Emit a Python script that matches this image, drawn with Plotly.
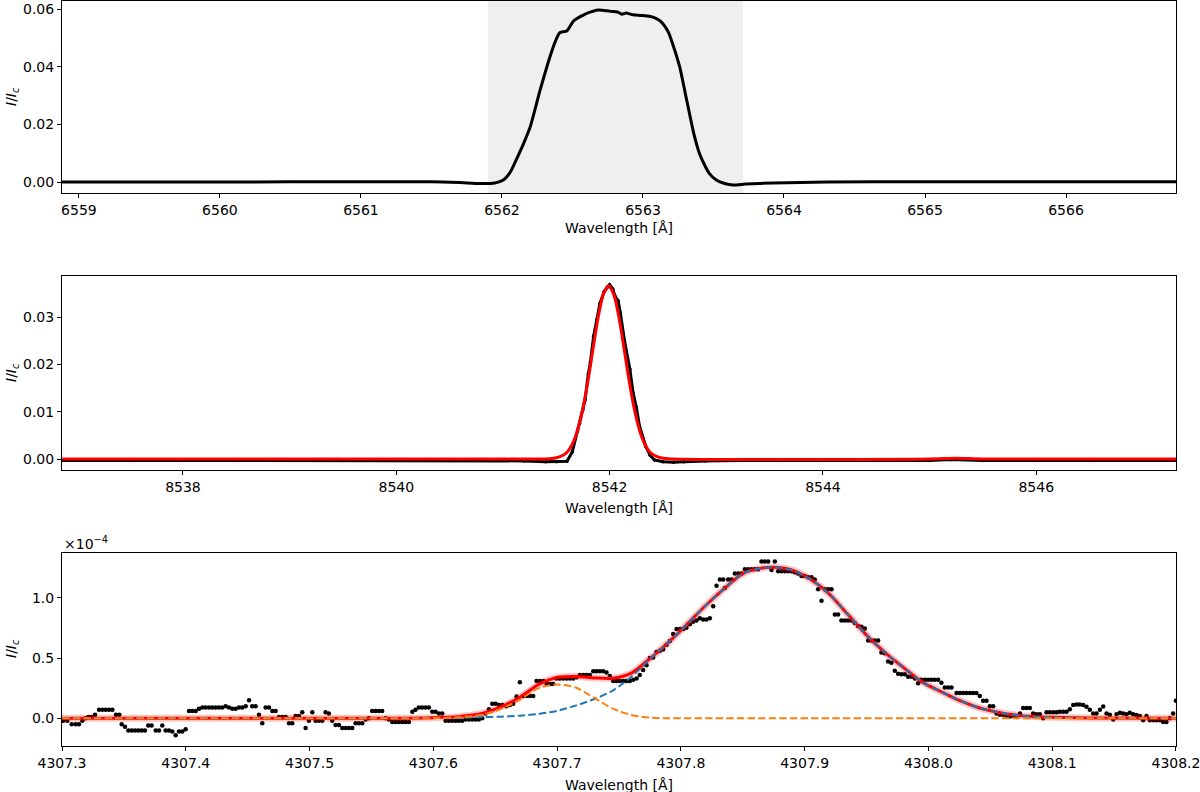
import plotly.graph_objects as go

# ---------------- Panel 1: H-alpha profile ----------------
ha_wl = [6558.88, 6559.5, 6560.0, 6560.5, 6561.0, 6561.5, 6561.7, 6561.85, 6561.95, 6562.01,
         6562.06, 6562.10, 6562.15, 6562.20, 6562.27, 6562.34, 6562.38, 6562.41, 6562.46, 6562.51,
         6562.58, 6562.63, 6562.68, 6562.72, 6562.77, 6562.82, 6562.85, 6562.88, 6562.93, 6562.98,
         6563.03, 6563.07, 6563.11, 6563.14, 6563.18, 6563.21, 6563.26, 6563.31, 6563.36, 6563.40,
         6563.43, 6563.47, 6563.52, 6563.58, 6563.64, 6563.73, 6563.92, 6564.3, 6565.0, 6566.0, 6566.78]
ha_int = [0.0, 0.0, 0.0, 0.0001, 0.0001, 0.0001, -0.0002, -0.0005, -0.0003, 0.0007,
          0.0035, 0.0076, 0.0130, 0.0191, 0.0318, 0.0434, 0.0490, 0.0518, 0.0524, 0.0560,
          0.0580, 0.0590, 0.0597, 0.0595, 0.0592, 0.0590, 0.0582, 0.0586, 0.0580, 0.0578,
          0.0576, 0.0572, 0.0563, 0.0550, 0.0520, 0.0480, 0.0400, 0.0284, 0.0169, 0.0100,
          0.0066, 0.0030, 0.0007, -0.0005, -0.0010, -0.0007, -0.0003, 0.0, 0.0001, 0.0001, 0.0001]
ha_span = [6561.90, 6563.71]

# ---------------- Panel 2: Ca II 8542 ----------------
ir_obs_wl = [8536.87, 8537.5, 8538.0, 8538.5, 8539.0, 8539.5, 8540.0, 8540.5, 8540.9, 8541.2,
             8541.4, 8541.5, 8541.6, 8541.65, 8541.7, 8541.72, 8541.75, 8541.77, 8541.8, 8541.82,
             8541.85, 8541.88, 8541.91, 8541.95, 8541.98, 8542.00, 8542.03, 8542.05, 8542.08, 8542.10,
             8542.14, 8542.19, 8542.22, 8542.25, 8542.28, 8542.31, 8542.34, 8542.38, 8542.42, 8542.5,
             8542.6, 8542.7, 8542.9, 8543.2, 8543.6, 8544.0, 8544.5, 8545.0, 8545.2, 8545.5,
             8546.0, 8546.5, 8547.31]
ir_obs = [-0.0003, -0.0003, -0.0003, -0.0003, -0.0003, -0.0003, -0.0003, -0.0003, -0.0003, -0.0004,
          -0.0006, -0.0006, -0.0005, 0.0015, 0.0060, 0.0075, 0.0105, 0.0125, 0.0180, 0.0205,
          0.0260, 0.0295, 0.0330, 0.0355, 0.0365, 0.0369, 0.0360, 0.0345, 0.0335, 0.0310,
          0.0250, 0.0190, 0.0140, 0.0110, 0.0070, 0.0045, 0.0026, 0.0008, -0.0002, -0.0006,
          -0.0007, -0.0006, -0.0004, -0.0003, -0.0003, -0.0003, -0.0003, -0.0003, -0.0001, -0.0003,
          -0.0003, -0.0003, -0.0003]
ir_fit_wl = [8536.87, 8541.0, 8541.39, 8541.49, 8541.59, 8541.64, 8541.69, 8541.74, 8541.79, 8541.84,
             8541.89, 8541.94, 8541.99, 8542.04, 8542.09, 8542.14, 8542.19, 8542.24, 8542.29, 8542.34,
             8542.39, 8542.49, 8542.59, 8545.0, 8545.25, 8545.5, 8547.31]
ir_fit = [0.0, 0.0, 0.0, 0.0002, 0.0012, 0.0027, 0.0054, 0.0097, 0.0156, 0.0227,
          0.0297, 0.0348, 0.0367, 0.0348, 0.0297, 0.0227, 0.0156, 0.0097, 0.0054, 0.0027,
          0.0012, 0.0002, 0.0, 0.0, 0.00015, 0.0, 0.0]

# ---------------- Panel 3: 4307.x line (values in units of 1e-4) ----------------
ca_wl = [
    4307.3011, 4307.3043, 4307.3078, 4307.3110, 4307.3137, 4307.3164, 4307.3191, 4307.3213, 4307.3240, 4307.3267,
    4307.3299, 4307.3326, 4307.3353, 4307.3380, 4307.3407, 4307.3436, 4307.3463, 4307.3482, 4307.3509, 4307.3536,
    4307.3563, 4307.3590, 4307.3617, 4307.3644, 4307.3670, 4307.3697, 4307.3724, 4307.3757, 4307.3784, 4307.3810,
    4307.3837, 4307.3864, 4307.3891, 4307.3918, 4307.3945, 4307.3972, 4307.3999, 4307.4026, 4307.4053, 4307.4080,
    4307.4107, 4307.4134, 4307.4160, 4307.4187, 4307.4214, 4307.4241, 4307.4268, 4307.4295, 4307.4322, 4307.4349,
    4307.4376, 4307.4403, 4307.4430, 4307.4457, 4307.4484, 4307.4511, 4307.4537, 4307.4564, 4307.4591, 4307.4618,
    4307.4645, 4307.4672, 4307.4699, 4307.4726, 4307.4753, 4307.4780, 4307.4807, 4307.4834,
    4307.4860, 4307.4887, 4307.4914, 4307.4941, 4307.4968, 4307.4995, 4307.5022, 4307.5049, 4307.5076, 4307.5103,
    4307.5129, 4307.5156, 4307.5183, 4307.5210, 4307.5237, 4307.5264, 4307.5291, 4307.5318, 4307.5345, 4307.5372,
    4307.5399, 4307.5426, 4307.5453, 4307.5480, 4307.5506, 4307.5533, 4307.5560, 4307.5587, 4307.5614, 4307.5641,
    4307.5668, 4307.5695, 4307.5722, 4307.5749, 4307.5776, 4307.5803, 4307.5830, 4307.5856, 4307.5883, 4307.5910,
    4307.5937, 4307.5964, 4307.5991, 4307.6018, 4307.6045, 4307.6072, 4307.6099, 4307.6126, 4307.6153, 4307.6180,
    4307.6206, 4307.6233, 4307.6260, 4307.6287, 4307.6314, 4307.6341, 4307.6368, 4307.6395, 4307.6422, 4307.6449,
    4307.6476, 4307.6503, 4307.6530, 4307.6557,
    4307.6591, 4307.6618, 4307.6645, 4307.6672, 4307.6699, 4307.6726, 4307.6753, 4307.6780, 4307.6807, 4307.6834,
    4307.6861, 4307.6888, 4307.6915, 4307.6942, 4307.6968, 4307.6995, 4307.7022, 4307.7049, 4307.7076, 4307.7103,
    4307.7130, 4307.7157, 4307.7184, 4307.7211, 4307.7238, 4307.7265, 4307.7292, 4307.7318, 4307.7345, 4307.7372,
    4307.7399, 4307.7426, 4307.7453, 4307.7480, 4307.7507, 4307.7534, 4307.7561, 4307.7588, 4307.7615, 4307.7642,
    4307.7668, 4307.7695, 4307.7722, 4307.7749, 4307.7776, 4307.7803, 4307.7830, 4307.7857, 4307.7884, 4307.7911,
    4307.7938, 4307.7965, 4307.7992, 4307.8019, 4307.8045, 4307.8072, 4307.8099, 4307.8126, 4307.8153, 4307.8180,
    4307.8207, 4307.8234, 4307.8261, 4307.8288, 4307.8315, 4307.8342,
    4307.8355, 4307.8382, 4307.8409, 4307.8436, 4307.8463, 4307.8490, 4307.8517, 4307.8543, 4307.8570, 4307.8597,
    4307.8624, 4307.8651, 4307.8678, 4307.8705, 4307.8732, 4307.8759, 4307.8786, 4307.8813, 4307.8840, 4307.8867,
    4307.8894, 4307.8920, 4307.8947, 4307.8974, 4307.9001, 4307.9028, 4307.9055, 4307.9082, 4307.9109, 4307.9136,
    4307.9163, 4307.9190, 4307.9217, 4307.9244, 4307.9270, 4307.9297, 4307.9324, 4307.9351, 4307.9378, 4307.9405,
    4307.9432, 4307.9459, 4307.9486, 4307.9513, 4307.9540, 4307.9567, 4307.9594, 4307.9620, 4307.9647, 4307.9674,
    4307.9701, 4307.9728, 4307.9755, 4307.9782, 4307.9809, 4307.9836, 4307.9863, 4307.9890, 4307.9917, 4307.9944,
    4307.9971, 4307.9997, 4308.0024, 4308.0051, 4308.0078, 4308.0105, 4308.0132, 4308.0159, 4308.0186,
    4308.0227, 4308.0254, 4308.0281, 4308.0308, 4308.0335, 4308.0361, 4308.0388, 4308.0415, 4308.0442, 4308.0469,
    4308.0496, 4308.0523, 4308.0550, 4308.0577, 4308.0604, 4308.0631, 4308.0658, 4308.0685, 4308.0712, 4308.0739,
    4308.0765, 4308.0792, 4308.0819, 4308.0846, 4308.0873, 4308.0900, 4308.0927, 4308.0954, 4308.0981, 4308.1008,
    4308.1035, 4308.1062, 4308.1089, 4308.1116, 4308.1143, 4308.1170, 4308.1197, 4308.1223, 4308.1250, 4308.1277,
    4308.1304, 4308.1331, 4308.1358, 4308.1385, 4308.1412, 4308.1439, 4308.1466, 4308.1493, 4308.1520, 4308.1547,
    4308.1573, 4308.1600, 4308.1627, 4308.1654, 4308.1681, 4308.1708, 4308.1735, 4308.1762, 4308.1789, 4308.1816,
    4308.1843, 4308.1870, 4308.1896, 4308.1923, 4308.1950, 4308.1977, 4308.1999,
]
ca_obs_e4 = [
    -0.02, -0.02, -0.05, -0.05, -0.05, -0.02, 0.00, 0.01, 0.01, 0.03,
    0.07, 0.07, 0.07, 0.07, 0.07, 0.03, 0.03, -0.05, -0.07, -0.10,
    -0.10, -0.10, -0.10, -0.10, -0.10, -0.06, -0.06, -0.10, -0.10, -0.06,
    -0.10, -0.10, -0.11, -0.14, -0.11, -0.11, -0.09, 0.06, 0.06, 0.06,
    0.08, 0.09, 0.09, 0.09, 0.09, 0.09, 0.09, 0.09, 0.10, 0.09,
    0.08, 0.08, 0.09, 0.09, 0.10, 0.15, 0.10, 0.10, 0.03, -0.04,
    0.09, 0.09, 0.06, 0.06, 0.01, 0.01, 0.01, -0.04,
    -0.04, 0.02, 0.02, 0.05, -0.08, -0.02, 0.05, -0.02, -0.02, -0.02,
    0.05, 0.04, -0.02, -0.055, -0.055, -0.08, -0.08, -0.08, -0.08, -0.04,
    -0.04, -0.04, -0.01, 0.00, 0.06, 0.06, 0.06, 0.06, 0.00, -0.01,
    -0.03, -0.03, -0.03, -0.03, -0.03, -0.03, 0.055, 0.07, 0.09, 0.09,
    0.09, 0.09, 0.055, 0.055, 0.04, 0.04, -0.02, -0.02, -0.02, -0.02,
    -0.02, -0.02, -0.01, -0.01, -0.01, -0.01, -0.01, 0.00, 0.04, 0.075,
    0.12, 0.12, 0.11, 0.11,
    0.10, 0.11, 0.12, 0.18, 0.30, 0.185, 0.185, 0.185, 0.185, 0.31,
    0.31, 0.31, 0.285, 0.285, 0.285, 0.33, 0.33, 0.33, 0.33, 0.33,
    0.33, 0.34, 0.36, 0.36, 0.36, 0.36, 0.39, 0.39, 0.39, 0.39,
    0.38, 0.35, 0.31, 0.31, 0.31, 0.31, 0.31, 0.31, 0.32, 0.33,
    0.36, 0.40, 0.44, 0.50, 0.505, 0.55, 0.56, 0.57, 0.61, 0.64,
    0.70, 0.74, 0.74, 0.74, 0.75, 0.78, 0.80, 0.81, 0.83, 0.82,
    0.82, 0.83, 0.93, 1.10, 1.15, 1.15,
    1.08, 1.15, 1.15, 1.20, 1.20, 1.20, 1.235, 1.235, 1.235, 1.235,
    1.235, 1.30, 1.30, 1.30, 1.23, 1.30, 1.22, 1.22, 1.22, 1.22,
    1.22, 1.21, 1.20, 1.18, 1.18, 1.17, 1.17, 1.15, 1.07, 0.975,
    1.07, 1.07, 1.07, 0.86, 0.86, 0.81, 0.81, 0.81, 0.81, 0.79,
    0.765, 0.76, 0.745, 0.645, 0.645, 0.645, 0.645, 0.545, 0.54, 0.47,
    0.46, 0.395, 0.37, 0.365, 0.365, 0.345, 0.345, 0.33, 0.29, 0.32,
    0.32, 0.32, 0.32, 0.32, 0.32, 0.295, 0.255, 0.255, 0.255,
    0.21, 0.21, 0.21, 0.21, 0.21, 0.21, 0.21, 0.185, 0.145, 0.145,
    0.10, 0.10, 0.04, 0.03, 0.03, 0.02, 0.015, 0.02, 0.01, 0.04,
    0.085, 0.085, 0.085, 0.04, 0.033, 0.033, 0.00, 0.05, 0.05, 0.05,
    0.05, 0.055, 0.055, 0.055, 0.075, 0.11, 0.115, 0.115, 0.11, 0.095,
    0.07, 0.04, 0.04, 0.07, 0.097, 0.04, 0.03, -0.01, 0.033, 0.047,
    0.04, 0.033, 0.047, 0.033, 0.028, 0.02, -0.015, 0.02, -0.015, -0.015,
    -0.015, -0.015, -0.03, -0.03, 0.00, 0.04, 0.145,
]
ca_fit_wl = [4307.30, 4307.45, 4307.55, 4307.60, 4307.62, 4307.64, 4307.655, 4307.67, 4307.685, 4307.70,
             4307.715, 4307.73, 4307.745, 4307.76, 4307.775, 4307.79, 4307.805, 4307.82, 4307.835, 4307.85,
             4307.865, 4307.875, 4307.89, 4307.905, 4307.92, 4307.935, 4307.95, 4307.965, 4307.98, 4307.995,
             4308.01, 4308.025, 4308.04, 4308.055, 4308.07, 4308.085, 4308.10, 4308.13, 4308.20]
ca_comp1_e4 = [0.0, 0.0, 0.0, 0.003, 0.005, 0.010, 0.014, 0.022, 0.036, 0.062,
               0.105, 0.16, 0.23, 0.345, 0.49, 0.63, 0.78, 0.935, 1.075, 1.20,
               1.245, 1.252, 1.228, 1.15, 1.03, 0.86, 0.69, 0.545, 0.42, 0.30,
               0.222, 0.148, 0.09, 0.052, 0.027, 0.014, 0.008, 0.003, 0.0]
ca_comp2_e4 = [0.0, 0.0, 0.0, 0.002, 0.008, 0.03, 0.08, 0.155, 0.25, 0.28,
               0.255, 0.17, 0.08, 0.028, 0.006, 0.0, 0.0, 0.0, 0.0, 0.0,
               0.0, 0.0, 0.0, 0.0, 0.0, 0.0, 0.0, 0.0, 0.0, 0.0,
               0.0, 0.0, 0.0, 0.0, 0.0, 0.0, 0.0, 0.0, 0.0]
ca_total_e4 = [0.0, 0.0, 0.0, 0.005, 0.014, 0.042, 0.097, 0.175, 0.28, 0.338,
               0.346, 0.335, 0.332, 0.375, 0.495, 0.63, 0.78, 0.935, 1.075, 1.20,
               1.245, 1.252, 1.228, 1.15, 1.03, 0.86, 0.69, 0.545, 0.42, 0.30,
               0.222, 0.148, 0.09, 0.052, 0.027, 0.014, 0.008, 0.003, 0.0]

ha_ticks = [6559, 6560, 6561, 6562, 6563, 6564, 6565, 6566]
ir_ticks = [8538, 8540, 8542, 8544, 8546]
ca_ticks = [4307.3, 4307.4, 4307.5, 4307.6, 4307.7, 4307.8, 4307.9, 4308.0, 4308.1, 4308.2]
ca_tick_text = ["4307.3", "4307.4", "4307.5", "4307.6", "4307.7", "4307.8", "4307.9", "4308.0", "4308.1", "4308.2"]

FONT = "DejaVu Sans"
DASH = "7.4px,3.2px"

fig = go.Figure()

# Panel 1
fig.add_trace(go.Scatter(x=ha_wl, y=ha_int, mode="lines", line=dict(color="black", width=3, shape="spline", smoothing=0.6),
                         xaxis="x", yaxis="y", hoverinfo="skip"))

# Panel 2
fig.add_trace(go.Scatter(x=ir_obs_wl, y=ir_obs, mode="lines+markers", line=dict(color="black", width=3),
                         marker=dict(color="black", size=3.5), xaxis="x2", yaxis="y2", hoverinfo="skip"))
fig.add_trace(go.Scatter(x=ir_fit_wl, y=ir_fit, mode="lines", line=dict(color="#ff0000", width=3, shape="spline", smoothing=0.7),
                         xaxis="x2", yaxis="y2", hoverinfo="skip"))

# Panel 3
fig.add_trace(go.Scatter(x=ca_wl, y=ca_obs_e4, mode="markers", marker=dict(color="black", size=4.5),
                         xaxis="x3", yaxis="y3", hoverinfo="skip"))
fig.add_trace(go.Scatter(x=ca_fit_wl, y=ca_total_e4, mode="lines",
                         line=dict(color="rgba(255,0,0,0.22)", width=7, shape="spline", smoothing=0.8),
                         xaxis="x3", yaxis="y3", hoverinfo="skip"))
fig.add_trace(go.Scatter(x=ca_fit_wl, y=ca_total_e4, mode="lines",
                         line=dict(color="#ff0000", width=3, shape="spline", smoothing=0.8),
                         xaxis="x3", yaxis="y3", hoverinfo="skip"))
fig.add_trace(go.Scatter(x=ca_fit_wl, y=ca_comp1_e4, mode="lines",
                         line=dict(color="#1f77b4", width=2, dash=DASH, shape="spline", smoothing=0.8),
                         xaxis="x3", yaxis="y3", hoverinfo="skip"))
fig.add_trace(go.Scatter(x=ca_fit_wl, y=ca_comp2_e4, mode="lines",
                         line=dict(color="#ff7f0e", width=2, dash=DASH, shape="spline", smoothing=0.8),
                         xaxis="x3", yaxis="y3", hoverinfo="skip"))

XD = [62 / 1200, 1176 / 1200]

def ax(**kw):
    d = dict(showline=True, linecolor="black", linewidth=1.1, mirror=True, ticks="outside",
             ticklen=4, tickwidth=1.1, tickcolor="black", showgrid=False, zeroline=False,
             automargin=False, ticklabeloverflow="allow",
             tickfont=dict(family=FONT, size=14, color="black"))
    d.update(kw)
    return d

fig.update_layout(
    width=1200, height=792,
    margin=dict(l=0, r=0, t=0, b=0),
    paper_bgcolor="white", plot_bgcolor="white",
    showlegend=False,
    font=dict(family=FONT, size=14, color="black"),
    xaxis=ax(domain=XD, anchor="y", range=[6558.88, 6566.78], tickvals=ha_ticks),
    yaxis=ax(domain=[1 - 193 / 792, 1 - 1 / 792], anchor="x", range=[-0.0038, 0.0628],
             tickvals=[0, 0.02, 0.04, 0.06], tickformat=".2f"),
    xaxis2=ax(domain=XD, anchor="y2", range=[8536.866, 8547.31], tickvals=ir_ticks),
    yaxis2=ax(domain=[1 - 470 / 792, 1 - 276 / 792], anchor="x2", range=[-0.00233, 0.03875],
              tickvals=[0, 0.01, 0.02, 0.03], tickformat=".2f"),
    xaxis3=ax(domain=XD, anchor="y3", range=[4307.29999, 4308.20001], tickvals=ca_ticks, ticktext=ca_tick_text),
    yaxis3=ax(domain=[1 - 745.7 / 792, 1 - 552.7 / 792], anchor="x3", range=[-0.227, 1.373],
              tickvals=[0, 0.5, 1.0], tickformat=".1f"),
    shapes=[dict(type="rect", xref="x", yref="y domain", x0=ha_span[0], x1=ha_span[1], y0=0, y1=1,
                 fillcolor="#efefef", line=dict(width=0), layer="below")],
)

xc = (62 + 1176) / 2 / 1200
anns = []
for ypix in (228, 508, 785):
    anns.append(dict(text="Wavelength [Å]", x=xc, y=1 - ypix / 792, xref="paper", yref="paper",
                     showarrow=False, xanchor="center", yanchor="middle", font=dict(family=FONT, size=14)))
for ypix in (97, 373, 649):
    anns.append(dict(text="<i>I</i>/<i>I</i><sub><i>c</i></sub>", x=12 / 1200, y=1 - ypix / 792,
                     xref="paper", yref="paper", showarrow=False, textangle=-90,
                     xanchor="center", yanchor="middle", font=dict(family=FONT, size=14)))
anns.append(dict(text="×10<sup>−4</sup>", x=62 / 1200, y=1 - 543 / 792, xref="paper", yref="paper",
                 showarrow=False, xanchor="left", yanchor="middle", font=dict(family=FONT, size=14)))
fig.update_layout(annotations=anns)

fig.write_html("out.html")
